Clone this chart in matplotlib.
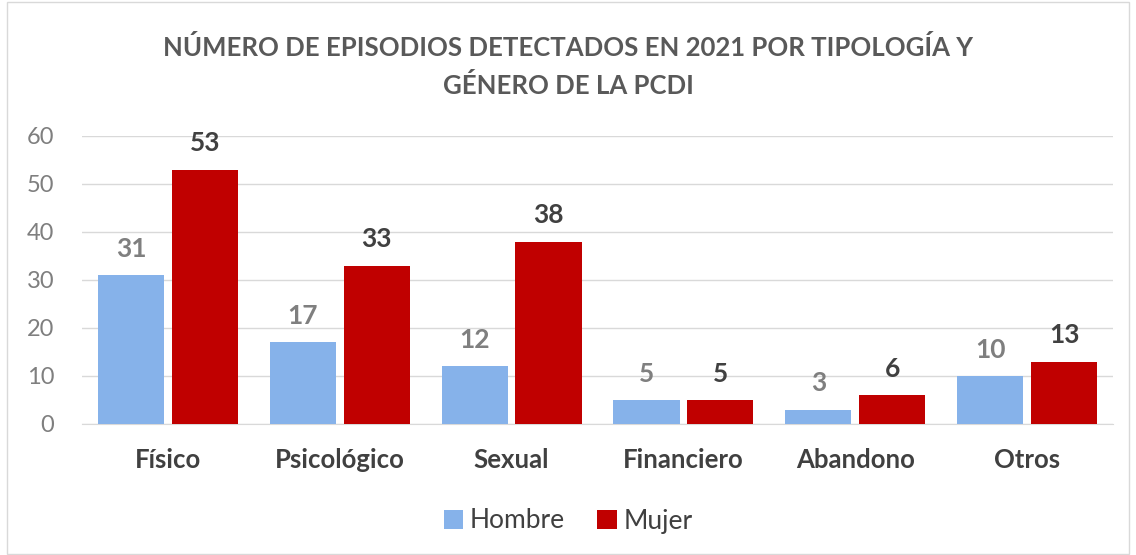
import matplotlib.pyplot as plt
import numpy as np
from matplotlib.patches import Rectangle

# datos
categorias = ['Físico', 'Psicológico', 'Sexual', 'Financiero', 'Abandono', 'Otros']
hombre = [31, 17, 12, 5, 3, 10]
mujer = [53, 33, 38, 5, 6, 13]

plt.rcParams['font.family'] = ['Lato', 'DejaVu Sans']

fig = plt.figure(figsize=(11.36, 5.55), dpi=100)
ax = fig.add_axes([82 / 1136, 1 - 424 / 555, (1113 - 82) / 1136, (424 - 136) / 555])

x = np.arange(len(categorias))
w = 0.385
b1 = ax.bar(x - 0.215, hombre, width=w, color='#86b2ea', label='Hombre', zorder=3)
b2 = ax.bar(x + 0.215, mujer, width=w, color='#c00000', label='Mujer', zorder=3)

for rect, v in zip(b1, hombre):
    ax.text(rect.get_x() + rect.get_width() / 2, v + 3.0, str(v), ha='center', va='bottom',
            fontsize=19, fontweight='bold', color='#7f7f7f')
for rect, v in zip(b2, mujer):
    ax.text(rect.get_x() + rect.get_width() / 2, v + 3.0, str(v), ha='center', va='bottom',
            fontsize=19, fontweight='bold', color='#404040')

ax.set_xlim(-0.5, len(categorias) - 0.5)
ax.set_ylim(0, 60)
ax.set_yticks(range(0, 61, 10))
ax.set_xticks(x)
ax.set_xticklabels(categorias, fontsize=18.5, fontweight='bold', color='#404040')
ax.tick_params(axis='y', labelsize=17, labelcolor='#7f7f7f', length=0, pad=20)
ax.tick_params(axis='x', length=0, pad=17)
ax.grid(axis='y', color='#d9d9d9', lw=1, zorder=0)
for s in ['top', 'right', 'left']:
    ax.spines[s].set_visible(False)
ax.spines['bottom'].set_color('#d9d9d9')

fig.text(0.5, 1 - 48 / 555, 'NÚMERO DE EPISODIOS DETECTADOS EN 2021 POR TIPOLOGÍA Y',
         ha='center', va='center', fontsize=18.5, fontweight='bold', color='#595959')
fig.text(0.5, 1 - 85 / 555, 'GÉNERO DE LA PCDI',
         ha='center', va='center', fontsize=18.5, fontweight='bold', color='#595959')

leg = fig.legend(loc='center', bbox_to_anchor=(0.5, 1 - 521 / 555), ncol=2, frameon=False,
                 fontsize=19, handlelength=0.75, handleheight=0.75, handletextpad=0.25, columnspacing=1.2)
for t in leg.get_texts():
    t.set_color('#404040')

fig.patches.append(Rectangle((7 / 1136, 0.002), 1 - 14 / 1136, 0.995, transform=fig.transFigure,
                             fill=False, edgecolor='#d9d9d9', lw=1))

fig.savefig('out.png', dpi=100)
